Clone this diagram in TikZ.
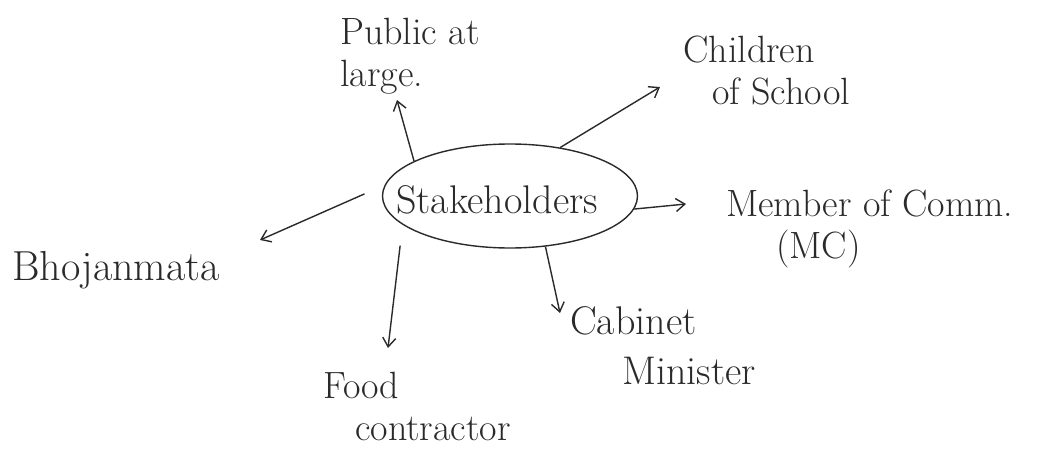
\documentclass[tikz,border=0pt]{standalone}
\usepackage{fontspec}
\usetikzlibrary{arrows.meta,shapes.geometric}
\definecolor{ink}{HTML}{2A2A2A}
\begin{document}
\begin{tikzpicture}[x=1pt,y=-1pt,
  lbl/.style={align=left, inner sep=0pt, text=ink},
  conn/.style={line width=1.4pt, draw=ink, -{Straight Barb[length=9pt,width=13pt]}}]
\useasboundingbox (0,0) rectangle (1062,455);
\node[draw=ink, line width=1.4pt, ellipse, minimum width=255pt, minimum height=104pt, inner sep=0pt] (s) at (510,196) {};
\node[inner sep=0pt, text=ink, anchor=base, font=\fontsize{40}{44}\selectfont] (st) at (497,213) {Stakeholders};
\node[lbl, anchor=north west, font=\fontsize{38}{42}\selectfont] (pub) at (340,18) {Public at\\large.};
\node[lbl, anchor=north west, font=\fontsize{38}{42}\selectfont] (chi) at (683,36) {Children\\\hspace*{29pt}of School};
\node[lbl, anchor=north west, font=\fontsize{38}{42}\selectfont] (mem) at (726,190) {Member of Comm.\\\hspace*{50pt}(MC)};
\node[lbl, anchor=base west, font=\fontsize{42}{50}\selectfont] (bho) at (12,280) {Bhojanmata};
\node[lbl, anchor=north west, font=\fontsize{38}{42}\selectfont] (food) at (323,372) {Food\\\hspace*{32pt}contractor};
\node[lbl, anchor=north west, font=\fontsize{40}{50}\selectfont] (cab) at (570,306) {Cabinet\\\hspace*{52pt}Minister};
\coordinate (pubT) at (397,100);
\coordinate (chiT) at (660,87);
\coordinate (memT) at (686,204);
\coordinate (bhoT) at (260,240);
\coordinate (foodT) at (388,348);
\coordinate (cabT) at (560,313);
\draw[conn] (s.160) -- (pubT);
\draw[conn] (s.44) -- (chiT);
\draw[conn] (s.-6) -- (memT);
\draw[conn, shorten <=22pt] (s.175) -- (bhoT);
\draw[conn, shorten <=21pt] (s.-165) -- (foodT);
\draw[conn] (s.-55) -- (cabT);
\end{tikzpicture}
\end{document}
